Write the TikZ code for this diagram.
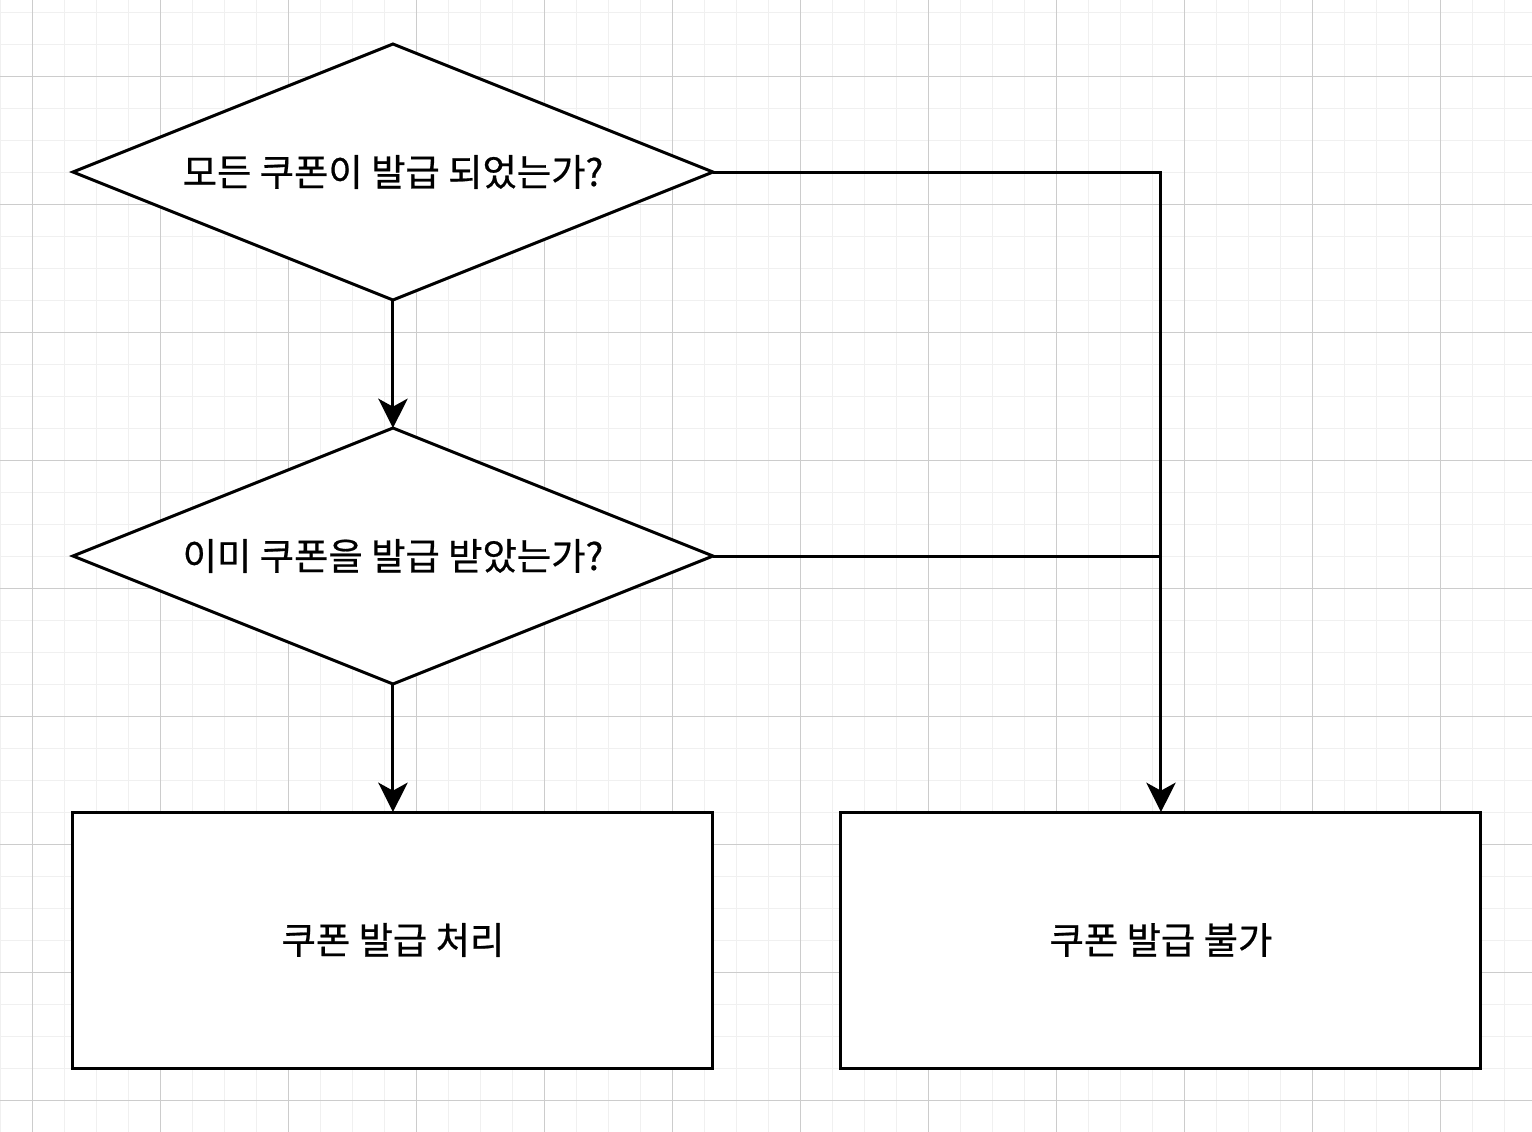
\documentclass[tikz,border=0pt]{standalone}
\usepackage{fontspec}
\newfontfamily\kr[FakeBold=0.6]{Noto Sans CJK KR}
\usetikzlibrary{shapes.geometric,arrows.meta,positioning}

\begin{document}
\begin{tikzpicture}[x=24pt, y=-24pt,
		minorgrid/.style={line width=0.75pt, color=black!6},
		majorgrid/.style={line width=0.75pt, color=black!20},
		decision/.style={draw, fill=white, line width=2.25pt, diamond, aspect=2.5, inner sep=0pt, outer sep=0pt,
			minimum width=480pt, minimum height=192pt, font=\kr\fontsize{28}{33}\selectfont},
		process/.style={draw, fill=white, line width=2.25pt, rectangle, inner sep=0pt, outer sep=0pt,
			minimum width=480pt, minimum height=192pt, font=\kr\fontsize{28}{33}\selectfont},
		link/.style={line width=2.25pt, -{Stealth[length=22pt, width=22pt, inset=6pt]}},
		plain/.style={line width=2.25pt}]
			
			\useasboundingbox (0,0) rectangle (47.875,35.375);
			
			\foreach \gx in {0,...,47}
				\draw[minorgrid] (\gx,0) -- (\gx,35.375);
			\foreach \gy in {0,...,34}
				\draw[minorgrid] (0,\gy+0.375) -- (47.875,\gy+0.375);
			\foreach \gx in {1,5,...,45}
				\draw[majorgrid] (\gx,0) -- (\gx,35.375);
			\foreach \gy in {2,6,...,34}
				\draw[majorgrid] (0,\gy+0.375) -- (47.875,\gy+0.375);
			
			\node[decision] (allissued) at (12.28,5.375) {모든 쿠폰이 발급 되었는가?};
			\node[decision, below=96pt of allissued] (received) {이미 쿠폰을 발급 받았는가?};
			\node[process, below=96pt of received] (issue) {쿠폰 발급 처리};
			\node[process, right=96pt of issue] (deny) {쿠폰 발급 불가};
			
			\draw[link] (allissued.south) -- (received.north);
			\draw[link] (received.south) -- (issue.north);
			\draw[link] (allissued.east) -| (deny.north);
			\draw[plain] (received.east) -- (received.east -| deny.north);
		\end{tikzpicture}
\end{document}
